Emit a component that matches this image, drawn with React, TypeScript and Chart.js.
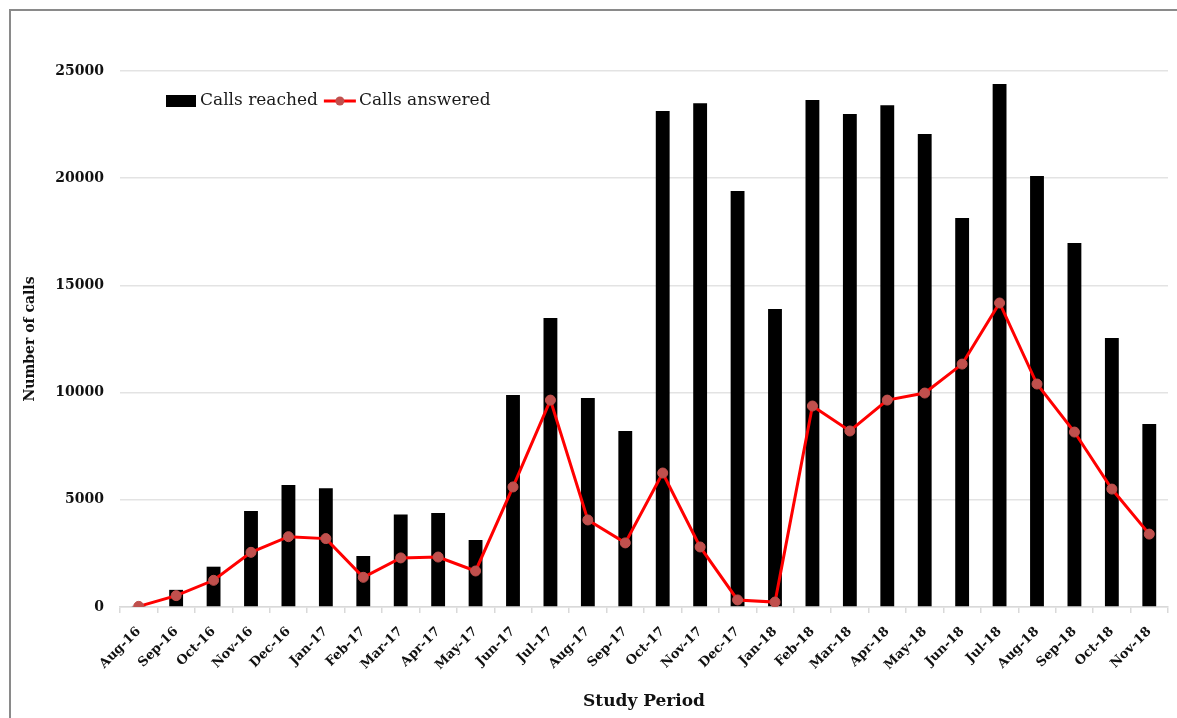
import React, { useEffect, useRef } from "react";
import { Chart, registerables } from "chart.js";

Chart.register(...registerables);

const months = [
  "Aug-16", "Sep-16", "Oct-16", "Nov-16", "Dec-16", "Jan-17", "Feb-17", "Mar-17", "Apr-17", "May-17",
  "Jun-17", "Jul-17", "Aug-17", "Sep-17", "Oct-17", "Nov-17", "Dec-17", "Jan-18", "Feb-18", "Mar-18",
  "Apr-18", "May-18", "Jun-18", "Jul-18", "Aug-18", "Sep-18", "Oct-18", "Nov-18",
];

const callsReached = [
  50, 800, 1880, 4480, 5690, 5540, 2380, 4320, 4380, 3125,
  9890, 13480, 9750, 8210, 23130, 23500, 19400, 13900, 23650, 23000,
  23400, 22060, 18140, 24390, 20100, 16980, 12550, 8540,
];

const callsAnswered = [
  30, 530, 1245, 2550, 3280, 3190, 1385, 2290, 2330, 1680,
  5600, 9650, 4060, 2990, 6250, 2800, 330, 230, 9375, 8210,
  9650, 9980, 11330, 14180, 10400, 8160, 5500, 3400,
];

const yTicks = [0, 5000, 10000, 15000, 20000, 25000];

const SERIF = "'DejaVu Serif', serif";

const framePlugin = {
  id: "frame",
  beforeDraw(chart: any) {
    const ctx = chart.ctx;
    ctx.save();
    ctx.strokeStyle = "#8a8a8a";
    ctx.lineWidth = 2;
    ctx.beginPath();
    ctx.moveTo(10, chart.height);
    ctx.lineTo(10, 10);
    ctx.lineTo(chart.width, 10);
    ctx.stroke();
    ctx.restore();
  },
};

const legendPlugin = {
  id: "insideLegend",
  afterDraw(chart: any) {
    const ctx = chart.ctx;
    const a = chart.chartArea;
    const x0 = a.left + 46;
    const yc = a.top + 30;
    ctx.save();
    ctx.font = `17px ${SERIF}`;
    ctx.textBaseline = "middle";
    ctx.textAlign = "left";
    ctx.fillStyle = "#000000";
    ctx.fillRect(x0, yc - 6, 30, 12);
    ctx.fillStyle = "#1a1a1a";
    const t1 = "Calls reached";
    ctx.fillText(t1, x0 + 34, yc);
    const w1 = ctx.measureText(t1).width;
    const lx = x0 + 34 + w1 + 6;
    ctx.strokeStyle = "#ff0000";
    ctx.lineWidth = 3;
    ctx.beginPath();
    ctx.moveTo(lx, yc);
    ctx.lineTo(lx + 32, yc);
    ctx.stroke();
    ctx.fillStyle = "#c0504d";
    ctx.beginPath();
    ctx.arc(lx + 16, yc, 4.5, 0, Math.PI * 2);
    ctx.fill();
    ctx.fillStyle = "#1a1a1a";
    ctx.fillText("Calls answered", lx + 35, yc);
    ctx.restore();
  },
};

export default function App() {
  const ref = useRef<HTMLCanvasElement | null>(null);

  useEffect(() => {
    if (!ref.current) return;
    document.body.style.overflow = "hidden";
    const chart = new Chart(ref.current, {
      type: "bar",
      data: {
        labels: months,
        datasets: [
          {
            type: "line",
            label: "Calls answered",
            data: callsAnswered,
            borderColor: "#ff0000",
            borderWidth: 3,
            pointRadius: 5,
            pointBackgroundColor: "#c0504d",
            pointBorderColor: "#c0504d",
            pointBorderWidth: 1,
            tension: 0,
            order: 0,
          } as any,
          {
            type: "bar",
            label: "Calls reached",
            data: callsReached,
            backgroundColor: "#000000",
            barPercentage: 0.37,
            categoryPercentage: 1,
            order: 1,
          },
        ],
      },
      plugins: [framePlugin, legendPlugin],
      options: {
        responsive: false,
        animation: false,
        layout: { padding: { left: 0, right: 9, top: 71, bottom: 0 } },
        plugins: {
          legend: { display: false },
          tooltip: { enabled: false },
        },
        scales: {
          x: {
            offset: true,
            grid: {
              drawOnChartArea: false,
              drawTicks: true,
              tickLength: 6,
              color: "#d9d9d9",
              lineWidth: 1.5,
              offset: true,
            },
            border: { color: "#d9d9d9", width: 1.5 },
            ticks: {
              minRotation: 45,
              maxRotation: 45,
              autoSkip: false,
              padding: 11,
              color: "#111111",
              font: { family: SERIF, size: 13, weight: "bold" },
            },
            title: {
              display: true,
              text: "Study Period",
              color: "#111111",
              font: { family: SERIF, size: 17, weight: "bold" },
              padding: { top: 0, bottom: 6 },
            },
            afterFit(s: any) {
              s.height = 111;
            },
          },
          y: {
            min: 0,
            max: 25000,
            afterBuildTicks(s: any) {
              s.ticks = yTicks.map((v) => ({ value: v }));
            },
            grid: {
              drawTicks: false,
              color: "#e3e3e3",
              lineWidth: 1.5,
            },
            border: { display: false },
            ticks: {
              padding: 16,
              color: "#111111",
              font: { family: SERIF, size: 14, weight: "bold" },
              callback: (v: any) => String(v),
            },
            title: {
              display: true,
              text: "Number of calls",
              color: "#111111",
              font: { family: SERIF, size: 14, weight: "bold" },
              padding: { top: 22, bottom: 0 },
            },
            afterFit(s: any) {
              s.width = 120;
            },
          },
        },
      },
    });
    return () => chart.destroy();
  }, []);

  return (
    <div>
      <canvas
        ref={ref}
        width={1177}
        height={718}
        style={{ position: "fixed", left: 0, top: 0, width: 1177, height: 718 }}
      />
    </div>
  );
}
